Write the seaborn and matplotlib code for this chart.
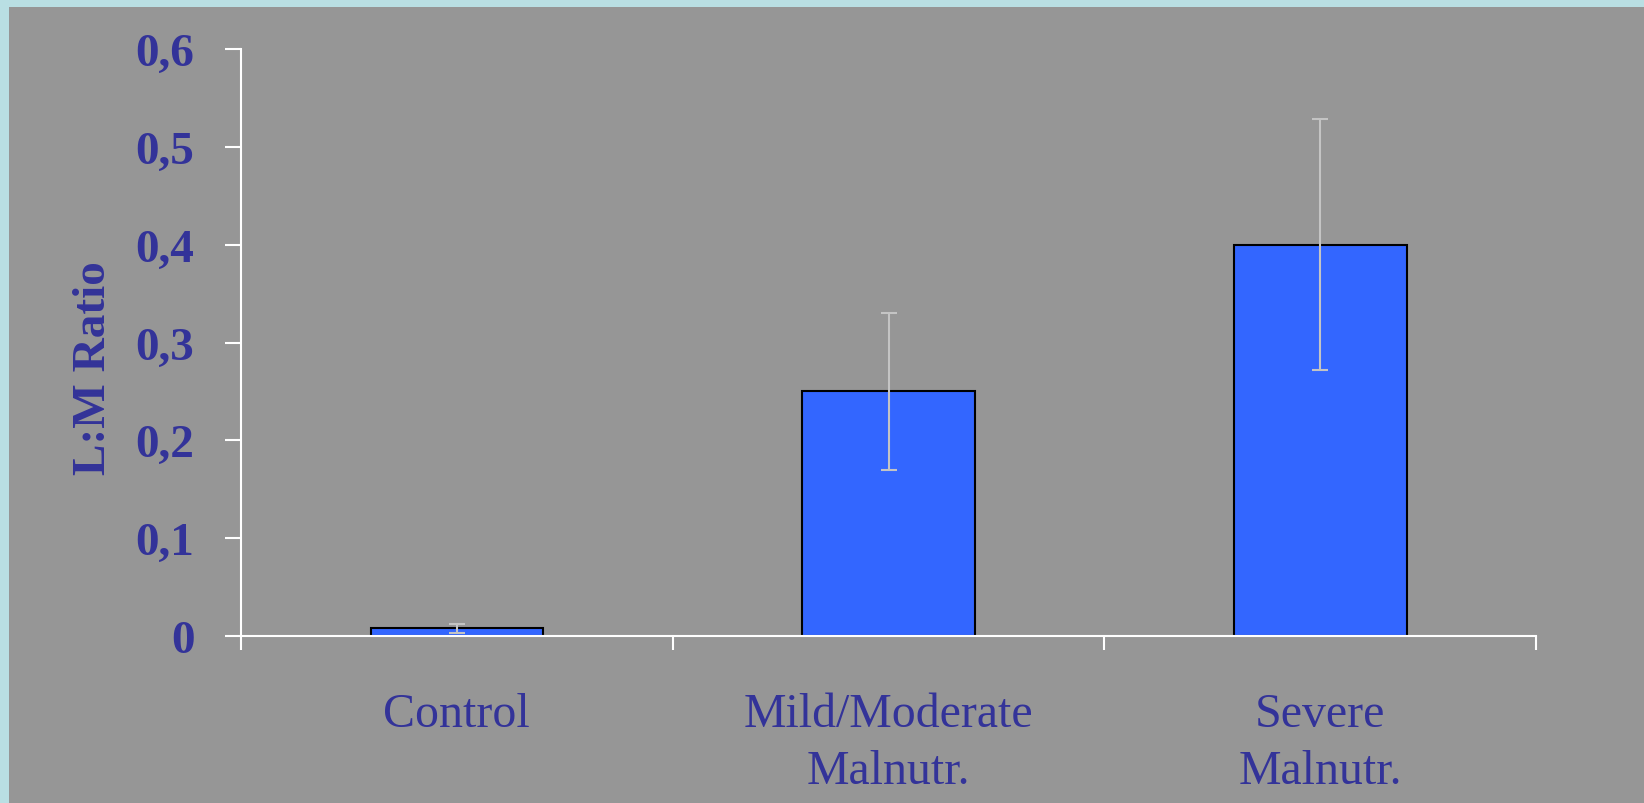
import matplotlib
matplotlib.use("Agg")
import matplotlib.pyplot as plt
from matplotlib.patches import Rectangle
import seaborn as sns
import pandas as pd

# data
groups = ["Control", "Mild/Moderate\nMalnutr.", "Severe\nMalnutr."]
lm_ratio = [0.008, 0.25, 0.40]
lm_err = [0.0045, 0.08, 0.128]
y_ticks = [0, 0.1, 0.2, 0.3, 0.4, 0.5, 0.6]
y_tick_labels = ["0", "0,1", "0,2", "0,3", "0,4", "0,5", "0,6"]

text_col = "#333399"
bg_col = "#969696"
border_col = "#b9dfe3"

sns.set_style("ticks")
plt.rcParams["font.family"] = ["Liberation Serif", "DejaVu Serif"]

fig = plt.figure(figsize=(16.44, 8.04), dpi=100)
fig.patch.set_facecolor(border_col)
fig.patches.append(Rectangle((9 / 1644, 0), 1, 1 - 8 / 804, transform=fig.transFigure,
                             facecolor=bg_col, edgecolor="none", zorder=-10))

ax = fig.add_axes([241 / 1644, 1 - 637 / 804, (1536 - 241) / 1644, (637 - 50) / 804])
ax.set_facecolor(bg_col)

df = pd.DataFrame({"group": groups, "ratio": lm_ratio})
sns.barplot(data=df, x="group", y="ratio", ax=ax, color="#3366ff", saturation=1,
            width=0.4, edgecolor="black", linewidth=1.5, errorbar=None, zorder=2)
ax.errorbar(range(len(groups)), lm_ratio, yerr=lm_err, fmt="none", ecolor="#c4c4c4",
            elinewidth=1.5, capsize=5.8, capthick=1.5, zorder=3)

ax.set_xlim(-0.5, 2.5)
ax.set_ylim(0, 0.6)
ax.set_yticks(y_ticks, y_tick_labels)
ax.set_xticks([-0.5, 0.5, 1.5, 2.5], ["", "", "", ""])
ax.set_xticks(range(len(groups)), groups, minor=True)

for side in ["top", "right"]:
    ax.spines[side].set_visible(False)
for side in ["left", "bottom"]:
    ax.spines[side].set_color("white")
    ax.spines[side].set_linewidth(1.5)
    ax.spines[side].set_zorder(4)

ax.tick_params(axis="y", colors="white", length=11.5, width=1.5, pad=22,
               labelcolor=text_col, labelsize=34)
for lab in ax.get_yticklabels():
    lab.set_fontweight("bold")
ax.tick_params(axis="x", which="major", colors="white", length=10, width=1.5)
ax.tick_params(axis="x", which="minor", length=0, pad=40, labelcolor=text_col, labelsize=34.5)
for lab in ax.get_xticklabels(minor=True):
    lab.set_linespacing(1.4)

ax.set_xlabel("")
ax.set_ylabel("L:M Ratio", color=text_col, fontsize=34, fontweight="bold",
              labelpad=15, y=0.458)

fig.savefig("out.png", dpi=100, facecolor=fig.get_facecolor())
